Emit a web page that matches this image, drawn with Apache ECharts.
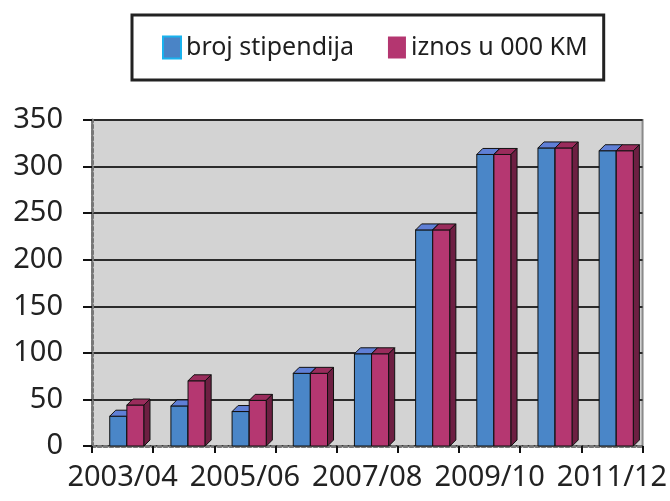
<!DOCTYPE html>
<html>
<head>
    <meta charset="utf-8">
    <title>Stipendije</title>
    <script src="https://cdn.jsdelivr.net/npm/echarts@6/dist/echarts.min.js"></script>
</head>
<body style="margin:0;background:#fff;">
<div id="main" style="width: 670px;height:501px;"></div>

<script type="text/javascript">
    // podaci
    var categories = ['2003/04', '2004/05', '2005/06', '2006/07', '2007/08', '2008/09', '2009/10', '2010/11', '2011/12'];
    var brojStipendija = [32, 43, 37, 78, 99, 232, 313, 320, 317];
    var iznos = [44, 70, 49, 78, 99, 232, 313, 320, 317];
    var yTicks = [0, 50, 100, 150, 200, 250, 300, 350];

    var myChart = echarts.init(document.getElementById('main'));

    // 3D stupac: prednja strana, vrh i bok
    function bar3d(offset, front, top, side) {
        return function (params, api) {
            var idx = api.value(0), v = api.value(1);
            var base = api.coord([idx, 0]);
            var pt = api.coord([idx, v]);
            var cw = api.size([1, 0])[0];
            var w = cw * 0.28;
            var x0 = base[0] + offset * cw;
            var ty = pt[1], by = base[1];
            var d = 6;
            var stroke = { stroke: '#111', lineWidth: 1 };
            return {
                type: 'group',
                children: [
                    { type: 'rect', shape: { x: x0, y: ty, width: w, height: by - ty },
                      style: Object.assign({ fill: front }, stroke) },
                    { type: 'polygon', shape: { points: [[x0, ty], [x0 + d, ty - d], [x0 + w + d, ty - d], [x0 + w, ty]] },
                      style: Object.assign({ fill: top }, stroke) },
                    { type: 'polygon', shape: { points: [[x0 + w, ty], [x0 + w + d, ty - d], [x0 + w + d, by - d], [x0 + w, by]] },
                      style: Object.assign({ fill: side }, stroke) }
                ]
            };
        };
    }

    function toData(arr) {
        return arr.map(function (v, i) { return [i, v]; });
    }

    var option = {
        animation: false,
        legend: {
            left: 132,
            top: 15,
            padding: [20, 16, 20, 30],
            borderColor: '#222',
            borderWidth: 3,
            itemGap: 34,
            itemWidth: 18,
            itemHeight: 22,
            textStyle: { fontSize: 25, color: '#1e1e1e', fontFamily: 'Noto Sans' },
            data: [
                { name: 'broj stipendija', icon: 'rect', itemStyle: { color: '#4a84c6', borderColor: '#19b2ee', borderWidth: 2 } },
                { name: 'iznos u 000 KM', icon: 'rect', itemStyle: { color: '#b43670' } }
            ]
        },
        grid: {
            left: 92,
            right: 25,
            top: 120,
            bottom: 55,
            show: true,
            backgroundColor: '#d3d3d3',
            borderColor: '#8a8a8a',
            borderWidth: 2
        },
        xAxis: {
            type: 'category',
            data: categories,
            axisLine: { lineStyle: { color: '#777', width: 3, type: 'dotted' } },
            axisTick: { show: true, interval: 0, length: 7, lineStyle: { color: '#111', width: 2 } },
            axisLabel: { interval: 1, fontSize: 29, color: '#222', margin: 17, fontFamily: 'Noto Sans' },
            splitLine: { show: false }
        },
        yAxis: {
            type: 'value',
            min: yTicks[0],
            max: yTicks[yTicks.length - 1],
            interval: 50,
            axisLine: { show: true, lineStyle: { color: '#777', width: 3, type: 'dotted' } },
            axisTick: { show: true, length: 9, lineStyle: { color: '#111', width: 2 } },
            axisLabel: { fontSize: 29, color: '#222', margin: 29, fontFamily: 'Noto Sans' },
            splitLine: { lineStyle: { color: '#2b2b2b', width: 2 } }
        },
        series: [
            {
                name: 'broj stipendija',
                type: 'custom',
                itemStyle: { color: '#4a84c6' },
                renderItem: bar3d(-0.21, '#4a86c8', '#5f7fd6', '#2e5590'),
                encode: { x: 0, y: 1 },
                data: toData(brojStipendija)
            },
            {
                name: 'iznos u 000 KM',
                type: 'custom',
                itemStyle: { color: '#b43670' },
                renderItem: bar3d(0.07, '#b53771', '#9a2c5c', '#6d1f42'),
                encode: { x: 0, y: 1 },
                data: toData(iznos)
            }
        ]
    };

    myChart.setOption(option);
</script>
</body>
</html>
